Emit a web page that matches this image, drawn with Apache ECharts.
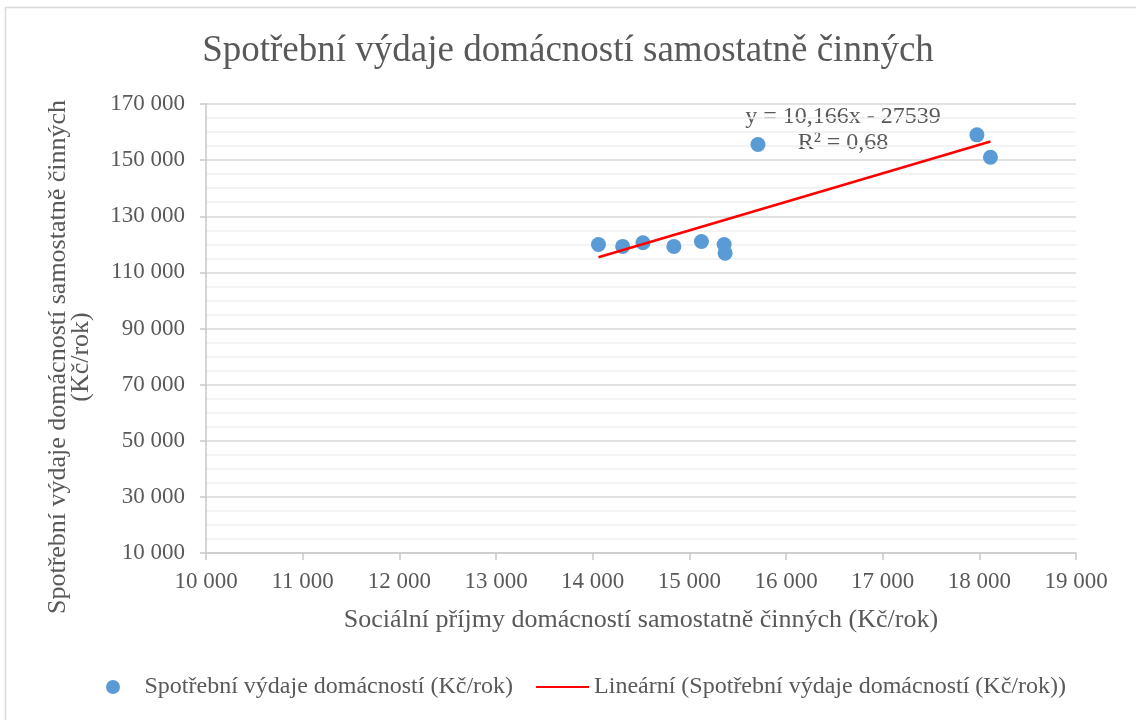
<!DOCTYPE html>
<html>
<head>
<meta charset="utf-8">
<script src="https://cdn.jsdelivr.net/npm/echarts@6/dist/echarts.min.js"></script>
<style>
  html, body { margin: 0; padding: 0; background: #ffffff; }
  #chart { width: 1136px; height: 720px; }
</style>
</head>
<body>
<div id="chart"></div>
<script>
// Sociální příjmy (x) a spotřební výdaje (y) domácností samostatně činných, Kč/rok
const socialIncome = [14060, 14310, 14520, 14840, 15125, 15360, 15370, 15710, 17975, 18115];
const consumption = [119950, 119250, 120550, 119250, 121000, 119950, 116850, 155550, 159000, 151050];

// Lineární trend: y = 10,166x - 27539, R² = 0,68
const trendSlope = 10.166;
const trendIntercept = -27539;
const trendR2 = 0.68;

const yTicks = { min: 10000, max: 170000, step: 20000 };
const xTicks = { min: 10000, max: 19000, step: 1000 };

const seriesName = 'Spotřební výdaje domácností (Kč/rok)';
const trendName = 'Lineární (Spotřební výdaje domácností (Kč/rok))';

const fmt = v => String(v).replace(/\B(?=(\d{3})+(?!\d))/g, ' ');
const fmtDec = (v, d) => v.toFixed(d).replace('.', ',');

const xMinData = Math.min(...socialIncome);
const xMaxData = Math.max(...socialIncome);
const trendData = [xMinData, xMaxData].map(x => [x, trendSlope * x + trendIntercept]);

const FONT = '"Liberation Serif", "Times New Roman", serif';
const TXT = '#595959';

const chart = echarts.init(document.getElementById('chart'), null, { renderer: 'canvas' });
chart.setOption({
  backgroundColor: '#ffffff',
  animation: false,
  textStyle: { fontFamily: FONT, color: TXT },
  title: {
    text: 'Spotřební výdaje domácností samostatně činných',
    left: 'center',
    top: 28,
    textStyle: { fontFamily: FONT, fontSize: 37, fontWeight: 'normal', color: TXT }
  },
  grid: { left: 206, right: 60, top: 104, bottom: 167 },
  xAxis: {
    type: 'value',
    min: xTicks.min, max: xTicks.max, interval: xTicks.step,
    name: 'Sociální příjmy domácností samostatně činných (Kč/rok)',
    nameLocation: 'middle',
    nameGap: 54,
    nameTextStyle: { fontFamily: FONT, fontSize: 26, color: TXT },
    axisLine: { show: true, lineStyle: { color: '#c8c8c8', width: 1.5 } },
    axisTick: { show: true, length: 7, lineStyle: { color: '#c8c8c8', width: 1.5 } },
    axisLabel: { fontFamily: FONT, fontSize: 23, color: TXT, margin: 17, formatter: fmt },
    splitLine: { show: false }
  },
  yAxis: {
    type: 'value',
    min: yTicks.min, max: yTicks.max, interval: yTicks.step,
    axisLine: { show: true, lineStyle: { color: '#c8c8c8', width: 1.5 } },
    axisTick: { show: true, length: 6, lineStyle: { color: '#c8c8c8', width: 1.5 } },
    axisLabel: { fontFamily: FONT, fontSize: 23, color: TXT, margin: 21, formatter: fmt },
    splitLine: { show: true, lineStyle: { color: '#d9d9d9', width: 1.5 } },
    minorTick: { show: false, splitNumber: 4 },
    minorSplitLine: { show: true, lineStyle: { color: '#f0f0f0', width: 1.5 } }
  },
  legend: {
    bottom: 16,
    left: 101,
    itemWidth: 53,
    itemHeight: 14,
    itemGap: 22,
    textStyle: { fontFamily: FONT, fontSize: 24, color: TXT },
    data: [
      { name: seriesName, icon: 'circle' },
      { name: trendName }
    ]
  },
  graphic: [
    {
      type: 'rect',
      silent: true,
      shape: { x: 5.5, y: 7.5, width: 1300, height: 900 },
      style: { fill: 'none', stroke: '#d9d9d9', lineWidth: 1.5 },
      z: -10
    },
    {
      type: 'text',
      silent: true,
      x: 70, y: 357,
      rotation: Math.PI / 2,
      style: {
        text: 'Spotřební výdaje domácností samostatně činných\n(Kč/rok)',
        fontFamily: FONT, fontSize: 26, fill: TXT,
        textAlign: 'center', textVerticalAlign: 'middle', lineHeight: 23
      }
    },
    {
      type: 'text',
      silent: true,
      x: 843, y: 130,
      style: {
        text: 'y = ' + fmtDec(trendSlope, 3) + 'x - ' + Math.abs(trendIntercept) + '\nR² = ' + fmtDec(trendR2, 2),
        fontFamily: FONT, fontSize: 24, fill: TXT,
        textAlign: 'center', textVerticalAlign: 'middle', lineHeight: 26
      }
    }
  ],
  series: [
    {
      name: seriesName,
      type: 'scatter',
      symbol: 'circle',
      symbolSize: 15,
      itemStyle: { color: '#5b9bd5', opacity: 1 },
      data: socialIncome.map((x, i) => [x, consumption[i]]),
      z: 3
    },
    {
      name: trendName,
      type: 'line',
      symbol: 'none',
      showSymbol: false,
      lineStyle: { color: '#ff0000', width: 2.5 },
      itemStyle: { color: 'rgba(0,0,0,0)' },
      data: trendData,
      z: 4
    }
  ]
});
</script>
</body>
</html>
